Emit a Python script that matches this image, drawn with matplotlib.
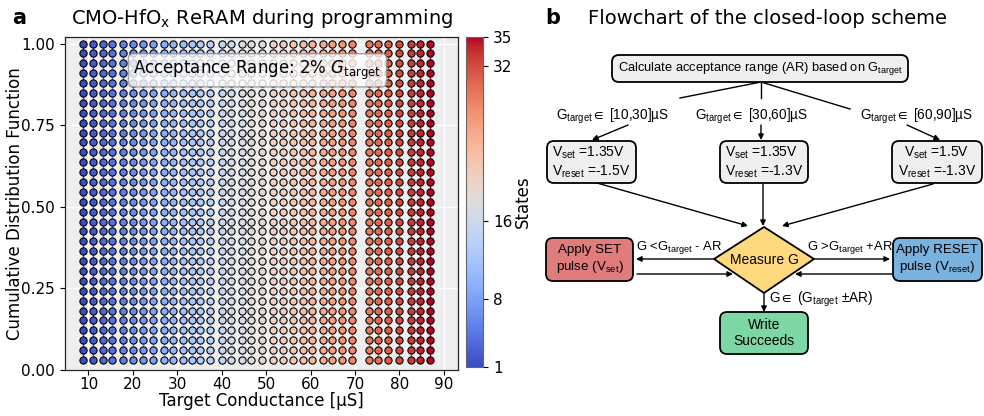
import numpy as np
import matplotlib
matplotlib.use('Agg')
import matplotlib.pyplot as plt
from matplotlib.colors import Normalize
from matplotlib.cm import ScalarMappable
from matplotlib.patches import FancyBboxPatch, Polygon

# Data: target conductance of each programmed state (uS)
target_g = [8.8, 11.1, 13.2, 15.4, 17.8, 20.1, 22.3, 24.6, 26.9, 29.1,
            31.3, 33.2, 35.2, 37.4, 40.0, 42.1, 44.5, 46.6, 49.0, 51.6,
            53.9, 56.1, 58.2, 60.3, 62.9, 64.8, 67.0, 69.3, 73.2, 75.2,
            77.4, 79.8, 82.6, 84.7, 86.9]
states = list(range(1, len(target_g) + 1))
n_cycles = 33                      # programming cycles per state
state_ticks = [1, 8, 16, 32, 35]
x_ticks = [10, 20, 30, 40, 50, 60, 70, 80, 90]
y_ticks = [0.00, 0.25, 0.50, 0.75, 1.00]

# empirical CDF levels of the cycles
cdf = np.arange(1, n_cycles + 1) / n_cycles

plt.rcParams['font.family'] = ['DejaVu Sans']
plt.rcParams['mathtext.fontset'] = 'custom'
plt.rcParams['mathtext.rm'] = 'Liberation Sans'
plt.rcParams['mathtext.it'] = 'Liberation Sans:italic'
plt.rcParams['mathtext.fallback'] = 'stixsans'
fc_fam = ['Liberation Sans', 'DejaVu Sans']

fig = plt.figure(figsize=(9.84, 4.16), dpi=100)

# ---------------- panel a ----------------
ax = fig.add_axes([0.066, 0.111, 0.3995, 0.800])
cax = fig.add_axes([0.4736, 0.118, 0.0175, 0.793])

cmap = plt.get_cmap('coolwarm')
norm = Normalize(vmin=1, vmax=35)
for g, s in zip(target_g, states):
    c = cmap(norm(s))
    xs = np.full(n_cycles, g)
    ax.plot(xs, cdf, color=c, lw=1.0, zorder=2)
    ax.scatter(xs, cdf, s=27, color=c, edgecolor='black', linewidths=0.8, zorder=3)

ax.set_facecolor('#eeeeee')
ax.grid(True, color='white', lw=1.0, zorder=0)
ax.set_axisbelow(True)
ax.set_xlim(4.7, 93.2)
ax.set_ylim(0, 1.02)
ax.set_xticks(x_ticks)
ax.set_yticks(y_ticks)
ax.tick_params(labelsize=11)
ax.tick_params(axis='x', pad=2)
for sp in ax.spines.values():
    sp.set_color('0.15')
    sp.set_linewidth(0.9)
ax.set_xlabel('Target Conductance [µS]', fontsize=12, labelpad=0)
ax.set_ylabel('Cumulative Distribution Function', fontsize=12)
ax.yaxis.set_label_coords(-0.105, 0.5)

ax.text(0.49, 0.90, r'Acceptance Range: 2% $G_{\mathrm{target}}$', transform=ax.transAxes,
        ha='center', va='center', fontsize=12, zorder=5, math_fontfamily='dejavusans',
        bbox=dict(boxstyle='round,pad=0.3', fc='white', ec='0.55', alpha=0.8))

sm = ScalarMappable(norm=norm, cmap=cmap)
cbar = fig.colorbar(sm, cax=cax, ticks=state_ticks)
cbar.ax.tick_params(labelsize=11)
cbar.outline.set_edgecolor('0.4')
cbar.set_label('States', fontsize=12, labelpad=1)

fig.text(12 / 984, 1 - 18 / 416, 'a', fontsize=15, fontweight='bold', va='center')
fig.text(262 / 984, 1 - 18 / 416, r'CMO-HfO$_{\mathrm{x}}$ ReRAM during programming',
         fontsize=14, ha='center', va='center', math_fontfamily='dejavusans')

# ---------------- panel b ----------------
fig.text(545 / 984, 1 - 18 / 416, 'b', fontsize=15, fontweight='bold', va='center')
fig.text(588 / 984, 1 - 18 / 416, 'Flowchart of the closed-loop scheme',
         fontsize=14, ha='left', va='center')

fa = fig.add_axes([0, 0, 1, 1])
fa.set_xlim(0, 984)
fa.set_ylim(416, 0)
fa.axis('off')
fa.patch.set_alpha(0)


def box(x0, y0, x1, y1, fc):
    fa.add_patch(FancyBboxPatch((x0, y0), x1 - x0, y1 - y0,
                                boxstyle='round,pad=0,rounding_size=7',
                                fc=fc, ec='black', lw=1.3, zorder=3))


def arrow(p0, p1):
    fa.annotate('', xy=p1, xytext=p0,
                arrowprops=dict(arrowstyle='-|>', color='black', lw=1.0,
                                mutation_scale=8, shrinkA=0, shrinkB=0), zorder=2)


def line(p0, p1):
    fa.plot([p0[0], p1[0]], [p0[1], p1[1]], color='black', lw=1.0, zorder=2)


def label(x, y, s, size=9.6, ha='center', **kw):
    fa.text(x, y, s, ha=ha, va='center', fontsize=size, family=fc_fam, zorder=4, **kw)


gt = r'$\mathrm{G_{target}}$'
el = r'$\in$'

box(612, 55, 908, 82, '#efefef')
label(760, 68.5, 'Calculate acceptance range (AR) based on ' + gt, size=9.3)

# branches
line((761, 82), (680, 98))
arrow((628, 125), (592, 140))
label(613, 116, gt + el + ' [10,30]µS', size=9.8)
line((761, 82), (761, 98))
arrow((761, 125), (761, 140))
label(752, 116, gt + el + ' [30,60]µS', size=9.8)
line((761, 82), (850, 109))
arrow((907, 125), (940, 140))
label(917, 116, gt + el + ' [60,90]µS', size=9.8)

vs = r'$\mathrm{V_{set}}$'
vr = r'$\mathrm{V_{reset}}$'
box(547, 141, 636, 183, '#efefef')
label(591, 162, vs + ' =1.35V\n' + vr + ' =-1.5V', size=10, multialignment='left')
box(720, 141, 808, 183, '#efefef')
label(764, 162, vs + ' =1.35V\n' + vr + ' =-1.3V', size=10, multialignment='left')
box(892, 141, 982, 183, '#efefef')
label(937, 162, vs + ' =1.5V\n' + vr + ' =-1.3V', size=10, multialignment='center')

arrow((597, 183), (748, 226))
arrow((763, 183), (763, 226))
arrow((933, 184), (782, 226))

fa.add_patch(Polygon([(714, 259), (764, 227), (814, 259), (764, 293)], closed=True,
                     fc='#ffd97d', ec='black', lw=1.3, zorder=3))
label(764, 260, 'Measure G', size=10)

box(546, 238, 633, 281, '#e07c7c')
label(590, 259.5, 'Apply SET\npulse (' + vs + ')')
box(893, 238, 982, 281, '#7ab2de')
label(937, 259.5, 'Apply RESET\npulse (' + vr + ')')

arrow((714, 259), (636, 259))
label(679, 248, 'G <' + gt + ' - AR', size=9.4)
arrow((637, 274), (733, 274))
arrow((814, 259), (890, 259))
label(850, 248, 'G >' + gt + ' +AR', size=9.4)
arrow((892, 274), (795, 274))

arrow((764, 293), (764, 312))
label(769, 299, 'G' + el + ' (' + gt + ' ±AR)', ha='left', size=9.8)
box(720, 312, 808, 354, '#7dd7a5')
label(764, 333, 'Write\nSucceeds', size=10)

fig.savefig('out.png', dpi=100)
